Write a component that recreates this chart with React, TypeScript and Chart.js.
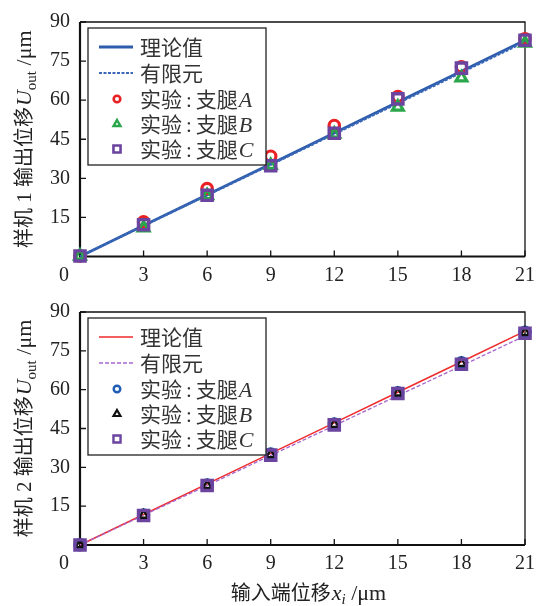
import React, { useEffect, useRef } from 'react';
import { Chart, registerables } from 'chart.js';
import { drawPoint } from 'chart.js/helpers';

Chart.register(...registerables);

// ---------- data ----------
const xInput = [0, 3, 6, 9, 12, 15, 18, 21];

const theory1 = [0, 11.9, 23.7, 35.5, 47.4, 59.3, 71.1, 83.0];
const fem1 = [0, 11.8, 23.5, 35.2, 47.0, 58.8, 70.6, 82.4];
const legA1 = [0.2, 13.3, 26.1, 38.5, 50.3, 61.4, 72.8, 83.6];
const legB1 = [0.2, 11.0, 23.4, 35.0, 47.0, 57.4, 68.6, 81.9];
const legC1 = [0.2, 12.2, 23.5, 34.8, 47.3, 60.5, 72.3, 83.0];

const theory2 = [0, 11.8, 23.6, 35.4, 47.2, 59.0, 70.8, 82.6];
const fem2 = [0, 11.5, 23.0, 34.6, 46.1, 57.7, 69.2, 80.8];
const legA2 = [0.1, 11.6, 23.2, 35.2, 46.8, 58.8, 70.4, 82.2];
const legB2 = [0.1, 11.5, 23.0, 34.9, 46.6, 58.7, 70.1, 82.1];
const legC2 = [0, 11.4, 23.0, 34.7, 46.4, 58.5, 69.8, 81.8];

const lineNames = ['理论值', '有限元'];
const expWord = '实验';
const legWord = '支腿';
const legNames = ['A', 'B', 'C'];

const xMin = 0, xMax = 21, xStep = 3;
const yMin = 0, yMax = 90, yStep = 15;

// ---------- styles ----------
const SERIF = "'Liberation Serif', 'Times New Roman', 'DejaVu Serif', serif";
const CJK = "'Noto Sans CJK SC', 'Noto Sans CJK JP', sans-serif";
const TXT = '#222';

type Run = { t: string; f: string; dy?: number; pl?: number; pr?: number };

function drawRuns(ctx: CanvasRenderingContext2D, runs: Run[], x: number, y: number, align: 'left' | 'center') {
  let w = 0;
  for (const r of runs) { ctx.font = r.f; w += ctx.measureText(r.t).width + (r.pl || 0) + (r.pr || 0); }
  let cx = align === 'center' ? x - w / 2 : x;
  ctx.textAlign = 'left';
  ctx.textBaseline = 'alphabetic';
  for (const r of runs) {
    ctx.font = r.f;
    cx += r.pl || 0;
    ctx.fillText(r.t, cx, y + (r.dy || 0));
    cx += ctx.measureText(r.t).width + (r.pr || 0);
  }
}

type LineSpec = { name: string; values: number[]; color: string; width: number; dash: number[] };
type PtSpec = { leg: string; values: number[]; color: string; style: string; radius: number; bw: number; lr: number; lbw: number };

type PanelProps = {
  height: number;
  xScaleHeight: number;
  lines: LineSpec[];
  points: PtSpec[];
  yTitle: Run[];
  xTitle?: Run[];
};

function Panel(props: PanelProps) {
  const ref = useRef<HTMLCanvasElement | null>(null);
  useEffect(() => {
    const canvas = ref.current;
    if (!canvas) return;
    const { lines, points, yTitle, xTitle, xScaleHeight } = props;

    const datasets: any[] = [];
    lines.forEach((l, i) => {
      datasets.push({
        label: l.name,
        data: xInput.map((x, k) => ({ x, y: l.values[k] })),
        borderColor: l.color,
        borderWidth: l.width,
        borderDash: l.dash,
        pointRadius: 0,
        fill: false,
        tension: 0,
        clip: false,
        order: 10 - i,
      });
    });
    points.forEach((p, i) => {
      datasets.push({
        label: expWord + ':' + legWord + p.leg,
        data: xInput.map((x, k) => ({ x, y: p.values[k] })),
        showLine: false,
        pointStyle: p.style,
        pointRadius: p.radius,
        pointBorderWidth: p.bw,
        pointBorderColor: p.color,
        pointBackgroundColor: 'rgba(0,0,0,0)',
        borderColor: p.color,
        backgroundColor: 'rgba(0,0,0,0)',
        clip: false,
        order: 3 - i,
      });
    });

    const overlay = {
      id: 'overlay',
      beforeDatasetsDraw(chart: any) {
        const ctx: CanvasRenderingContext2D = chart.ctx;
        const a = chart.chartArea;
        const xs = chart.scales.x;
        const ys = chart.scales.y;
        ctx.save();
        ctx.strokeStyle = '#111';
        ctx.lineWidth = 1.3;
        ctx.beginPath();
        ctx.moveTo(a.left, a.top); ctx.lineTo(a.right, a.top); ctx.lineTo(a.right, a.bottom);
        ctx.stroke();
        ctx.lineWidth = 2.2;
        ctx.beginPath();
        ctx.moveTo(a.left, a.top); ctx.lineTo(a.left, a.bottom); ctx.lineTo(a.right, a.bottom);
        ctx.stroke();
        ctx.lineWidth = 1.3;
        ctx.beginPath();
        for (const t of xs.ticks) {
          const px = xs.getPixelForValue(t.value);
          ctx.moveTo(px, a.bottom); ctx.lineTo(px, a.bottom - 6);
        }
        for (const t of ys.ticks) {
          const py = ys.getPixelForValue(t.value);
          ctx.moveTo(a.left, py); ctx.lineTo(a.left + 6, py);
        }
        ctx.stroke();
        ctx.fillStyle = TXT;
        ctx.font = `20px ${SERIF}`;
        ctx.textAlign = 'center';
        ctx.textBaseline = 'middle';
        ctx.fillText('0', a.left - 16, a.bottom + 19);
        ctx.save();
        ctx.translate(24, (a.top + a.bottom) / 2);
        ctx.rotate(-Math.PI / 2);
        ctx.fillStyle = TXT;
        drawRuns(ctx, yTitle, 0, 7, 'center');
        ctx.restore();
        if (xTitle) {
          ctx.fillStyle = TXT;
          drawRuns(ctx, xTitle, (a.left + a.right) / 2 + 6, a.bottom + 55, 'center');
        }
        ctx.restore();
      },
      afterDraw(chart: any) {
        const ctx: CanvasRenderingContext2D = chart.ctx;
        const a = chart.chartArea;
        const bl = a.left + 8, bt = a.top + 6, bw = 178, bh = 137;
        ctx.save();
        ctx.fillStyle = '#fff';
        ctx.fillRect(bl, bt, bw, bh);
        ctx.strokeStyle = '#222';
        ctx.lineWidth = 1.3;
        ctx.strokeRect(bl, bt, bw, bh);
        const offs = [19, 45, 71, 96, 121];
        const sx0 = bl + 11, sx1 = bl + 45, mx = bl + 29, tx = bl + 52;
        lines.forEach((l, i) => {
          const y = bt + offs[i];
          ctx.strokeStyle = l.color;
          ctx.lineWidth = l.width;
          ctx.setLineDash(l.dash);
          ctx.beginPath(); ctx.moveTo(sx0, y); ctx.lineTo(sx1, y); ctx.stroke();
          ctx.setLineDash([]);
          ctx.fillStyle = '#333';
          drawRuns(ctx, [{ t: l.name, f: `21px ${CJK}` }], tx, y + 7.5, 'left');
        });
        points.forEach((p, i) => {
          const y = bt + offs[i + 2];
          ctx.strokeStyle = p.color;
          ctx.fillStyle = 'rgba(0,0,0,0)';
          ctx.lineWidth = p.lbw;
          drawPoint(ctx, { pointStyle: p.style as any, rotation: 0, radius: p.lr, borderWidth: p.lbw }, mx, y);
          ctx.fillStyle = '#333';
          drawRuns(ctx, [
            { t: expWord, f: `21px ${CJK}` },
            { t: ':', f: `21px ${SERIF}`, pl: 4, pr: 4 },
            { t: legWord, f: `21px ${CJK}` },
            { t: p.leg, f: `italic 22px ${SERIF}`, pl: 1 },
          ], tx, y + 7.5, 'left');
        });
        ctx.restore();
      },
    };

    const tickFont = { family: SERIF, size: 20 };
    const chart = new Chart(canvas, {
      type: 'line',
      data: { datasets },
      options: {
        responsive: false,
        animation: false,
        events: [],
        layout: { padding: { top: 20, right: 10, left: 0, bottom: 0 } },
        plugins: { legend: { display: false }, tooltip: { enabled: false } },
        scales: {
          x: {
            type: 'linear',
            min: xMin, max: xMax,
            ticks: {
              stepSize: xStep, font: tickFont, color: TXT, padding: 7, maxRotation: 0, autoSkip: false,
              callback: (v: any) => (Number(v) === 0 ? '' : String(v)),
            },
            grid: { display: false, drawTicks: false },
            border: { display: false },
            afterFit: (s: any) => { s.height = xScaleHeight; },
          },
          y: {
            type: 'linear',
            min: yMin, max: yMax,
            ticks: {
              stepSize: yStep, font: tickFont, color: TXT, padding: 10,
              callback: (v: any) => (Number(v) === 0 ? '' : String(v)),
            },
            grid: { display: false, drawTicks: false },
            border: { display: false },
            afterFit: (s: any) => { s.width = 80; },
          },
        },
      } as any,
      plugins: [overlay],
    });
    return () => chart.destroy();
  }, []);
  return <canvas ref={ref} width={542} height={props.height} style={{ display: 'block', width: 542, height: props.height }} />;
}

function yTitleRuns(n: string): Run[] {
  return [
    { t: '样机', f: `20px ${CJK}` },
    { t: ' ' + n + ' ', f: `21px ${SERIF}` },
    { t: '输出位移', f: `20px ${CJK}` },
    { t: 'U', f: `italic 22px ${SERIF}`, pl: 1 },
    { t: 'out', f: `15px ${SERIF}`, dy: 5 },
    { t: ' /μm', f: `22px ${SERIF}` },
  ];
}

const xTitleRuns: Run[] = [
  { t: '输入端位移', f: `20px ${CJK}` },
  { t: 'x', f: `italic 22px ${SERIF}`, pl: 1 },
  { t: 'i', f: `italic 15px ${SERIF}`, dy: 4 },
  { t: ' /μm', f: `22px ${SERIF}` },
];

export default function App() {
  const lines1: LineSpec[] = [
    { name: lineNames[0], values: theory1, color: '#2c5cab', width: 2.8, dash: [] },
    { name: lineNames[1], values: fem1, color: '#3b68b8', width: 2.2, dash: [3, 1.5] },
  ];
  const pts1: PtSpec[] = [
    { leg: legNames[0], values: legA1, color: '#ea2124', style: 'circle', radius: 5.2, bw: 3.2, lr: 3.3, lbw: 2.6 },
    { leg: legNames[1], values: legB1, color: '#2aa64b', style: 'triangle', radius: 6.2, bw: 3.2, lr: 4, lbw: 2.4 },
    { leg: legNames[2], values: legC1, color: '#6a449f', style: 'rect', radius: 7.2, bw: 3.4, lr: 5, lbw: 2.6 },
  ];
  const lines2: LineSpec[] = [
    { name: lineNames[0], values: theory2, color: '#f02b2b', width: 1.5, dash: [] },
    { name: lineNames[1], values: fem2, color: '#a765cf', width: 1.3, dash: [4, 2] },
  ];
  const pts2: PtSpec[] = [
    { leg: legNames[0], values: legA2, color: '#1f5cb5', style: 'circle', radius: 5.2, bw: 3, lr: 3.3, lbw: 2.4 },
    { leg: legNames[1], values: legB2, color: '#111111', style: 'triangle', radius: 5, bw: 2.4, lr: 4, lbw: 2.2 },
    { leg: legNames[2], values: legC2, color: '#6a449f', style: 'rect', radius: 7.2, bw: 3.4, lr: 5, lbw: 2.4 },
  ];
  return (
    <div style={{ position: 'absolute', left: 0, top: 0, width: 542, height: 606, background: '#fff' }}>
      <Panel height={290} xScaleHeight={33.5} lines={lines1} points={pts1} yTitle={yTitleRuns('1')} />
      <Panel height={316} xScaleHeight={61} lines={lines2} points={pts2} yTitle={yTitleRuns('2')} xTitle={xTitleRuns} />
    </div>
  );
}
